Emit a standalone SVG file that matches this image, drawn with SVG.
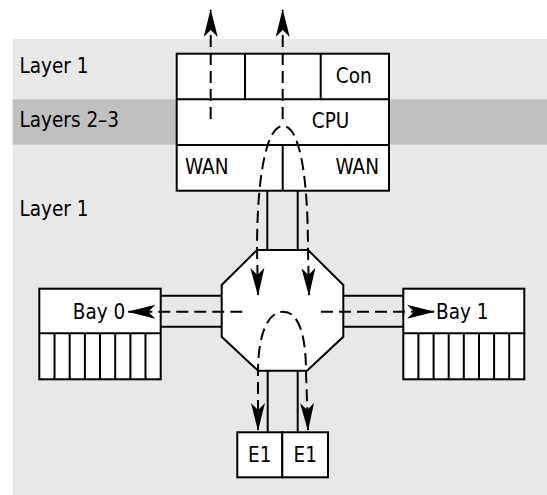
<svg xmlns="http://www.w3.org/2000/svg" width="547" height="495" viewBox="0 0 547 495">
<style>
.bx{fill:#fff;stroke:#000;stroke-width:2}
.ln{fill:none;stroke:#000;stroke-width:2}
.ds{fill:none;stroke:#000;stroke-width:2;stroke-dasharray:12 6}
text{font-family:"DejaVu Sans Condensed","DejaVu Sans",sans-serif;font-stretch:condensed;font-size:20.5px;fill:#000}
</style>
<defs>
<marker id="ah" viewBox="-29 -8 31 16" refX="0" refY="0" markerWidth="31" markerHeight="16" markerUnits="userSpaceOnUse" orient="auto-start-reverse">
<path d="M1,0 Q-13,-3.5 -27,-7 L-20,0 L-27,7 Q-13,3.5 1,0 Z" fill="#000"/>
</marker>
</defs>
<g id="background">
<rect x="12.7" y="39" width="535" height="456" fill="#e8e8e8"/>
<rect x="12.7" y="99.3" width="535" height="45.3" fill="#c0c0c0"/>
<text x="19.5" y="73.3">Layer 1</text>
<text x="19.5" y="126.7">Layers 2–3</text>
<text x="19.5" y="215.7">Layer 1</text>
</g>
<g id="links">
<line class="ln" x1="267.3" y1="190.7" x2="267.3" y2="250"/>
<line class="ln" x1="297.7" y1="190.7" x2="297.7" y2="250"/>
<line class="ln" x1="160.7" y1="295.7" x2="221.7" y2="295.7"/>
<line class="ln" x1="160.7" y1="326.7" x2="221.7" y2="326.7"/>
<line class="ln" x1="343.3" y1="295.7" x2="403.3" y2="295.7"/>
<line class="ln" x1="343.3" y1="326.7" x2="403.3" y2="326.7"/>
<line class="ln" x1="267.7" y1="370.7" x2="267.7" y2="432.3"/>
<line class="ln" x1="297.7" y1="370.7" x2="297.7" y2="432.3"/>
</g>
<g id="router">
<rect class="bx" x="176.7" y="53.7" width="212.3" height="137"/>
<line class="ln" x1="176.7" y1="99.3" x2="389" y2="99.3"/>
<line class="ln" x1="176.7" y1="145" x2="389" y2="145"/>
<line class="ln" x1="245" y1="53.7" x2="245" y2="99.3"/>
<line class="ln" x1="320.7" y1="53.7" x2="320.7" y2="99.3"/>
<line class="ln" x1="282.7" y1="145" x2="282.7" y2="190.7"/>
<text x="371.7" y="83.3" text-anchor="end">Con</text>
<text x="349.3" y="128.3" text-anchor="end">CPU</text>
<text x="185" y="174.3">WAN</text>
<text x="379" y="174.3" text-anchor="end">WAN</text>
</g>
<g id="switch">
<polygon class="bx" points="257,250 308,250 343.3,285 343.3,336.7 307,370.7 258,370.7 221.7,336.7 221.7,285"/>
</g>
<g id="bay0">
<rect class="bx" x="39.3" y="288.7" width="121.4" height="90.6"/>
<line class="ln" x1="39.3" y1="333.3" x2="160.7" y2="333.3"/>
<path class="ln" d="M54.5,333.3V379.3M69.7,333.3V379.3M84.9,333.3V379.3M100,333.3V379.3M115.2,333.3V379.3M130.4,333.3V379.3M145.5,333.3V379.3"/>
<text x="125.3" y="319.3" text-anchor="end">Bay 0</text>
</g>
<g id="bay1">
<rect class="bx" x="403.3" y="288.7" width="121" height="90.6"/>
<line class="ln" x1="403.3" y1="333.3" x2="524.3" y2="333.3"/>
<path class="ln" d="M418.4,333.3V379.3M433.6,333.3V379.3M448.7,333.3V379.3M463.8,333.3V379.3M479,333.3V379.3M494.1,333.3V379.3M509.2,333.3V379.3"/>
<text x="436" y="319.3">Bay 1</text>
</g>
<g id="e1a">
<rect class="bx" x="237.3" y="432.3" width="45" height="45"/>
<text x="259.8" y="461.7" text-anchor="middle">E1</text>
</g>
<g id="e1b">
<rect class="bx" x="282.3" y="432.3" width="45.7" height="45"/>
<text x="305.2" y="461.7" text-anchor="middle">E1</text>
</g>
<g id="flows">
<path class="ds" d="M210.7,119 L210.7,10" marker-end="url(#ah)"/>
<path class="ds" d="M282.7,119 L282.7,10" marker-end="url(#ah)"/>
<path class="ds" d="M258,295 L257,250 C257,178 266,126 283,126 C300,126 308,178 308,250 L309,295" marker-start="url(#ah)" marker-end="url(#ah)"/>
<path class="ds" d="M258,430 L258,372 C258,336 267,311.7 283.3,311.7 C299,311.7 306,336 306,372 L308,430" marker-start="url(#ah)" marker-end="url(#ah)"/>
<path class="ds" d="M242.3,311.7 L128.3,311.7" marker-end="url(#ah)"/>
<path class="ds" d="M321,311.7 L434,311.7" marker-end="url(#ah)"/>
</g>
</svg>
